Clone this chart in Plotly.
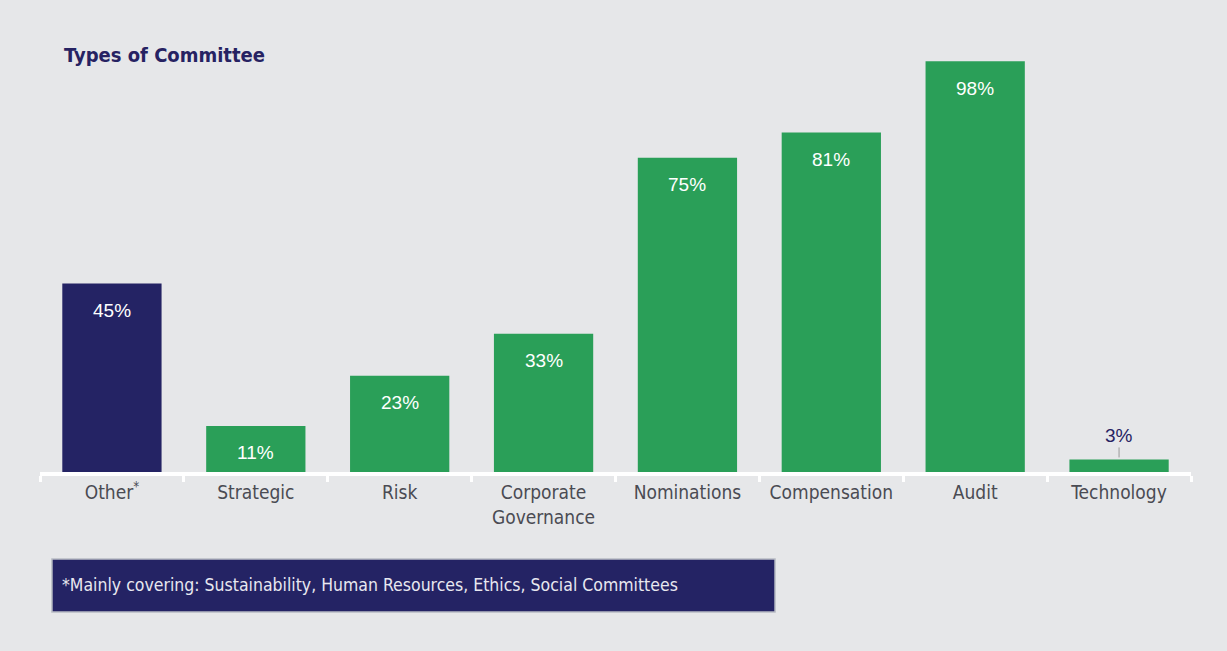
import plotly.graph_objects as go

categories = ["Other<sup>*</sup>", "Strategic", "Risk", "Corporate<br>Governance",
              "Nominations", "Compensation", "Audit", "Technology"]
values = [45, 11, 23, 33, 75, 81, 98, 3]
labels = ["45%", "11%", "23%", "33%", "75%", "81%", "98%", "3%"]
bar_colors = ["#242364", "#2A9F58", "#2A9F58", "#2A9F58", "#2A9F58", "#2A9F58", "#2A9F58", "#2A9F58"]
title_text = "Types of Committee"
footnote = "*Mainly covering: Sustainability, Human Resources, Ethics, Social Committees"

BG = "#E6E7E9"
NAVY = "#262262"
COND = "DejaVu Sans Condensed, Liberation Sans Narrow, Arial Narrow, sans-serif"

fig = go.Figure()
fig.add_trace(go.Bar(
    x=categories, y=values, width=0.69,
    marker=dict(color=bar_colors, line=dict(width=0)),
    hoverinfo="skip",
))

for i, (c, v, t) in enumerate(zip(categories, values, labels)):
    if v >= 8:
        fig.add_annotation(x=c, y=v, text=t, showarrow=False, yshift=-27,
                           font=dict(family="Liberation Sans, Arial, sans-serif", size=19, color="white"),
                           xanchor="center", yanchor="middle")
    else:
        fig.add_annotation(x=c, y=v, text=t, showarrow=True, ax=0, ay=-24,
                           arrowhead=0, arrowwidth=1, arrowcolor="#9a9a9a", standoff=2,
                           font=dict(family="Liberation Sans, Arial, sans-serif", size=19, color=NAVY),
                           xanchor="center", yanchor="middle")

# title
fig.add_annotation(xref="paper", yref="paper", x=0.0191, y=0.965, text=title_text,
                   showarrow=False, xanchor="left", yanchor="middle",
                   font=dict(family=COND, size=20, color=NAVY, weight="bold"))

# footnote box
fig.add_shape(type="rect", xref="paper", yref="paper", x0=0.0104, x1=0.6386, y0=-0.324, y1=-0.2014,
              fillcolor="#242364", line=dict(color="#b8bcc4", width=1.5), layer="above")
fig.add_annotation(xref="paper", yref="paper", x=0.0174, y=-0.2627, text=footnote,
                   showarrow=False, xanchor="left", yanchor="middle",
                   font=dict(family=COND, size=17.5, color="#e8e8f0"))

fig.update_layout(
    width=1227, height=651,
    margin=dict(l=40, r=36, t=40, b=179),
    paper_bgcolor=BG, plot_bgcolor=BG,
    showlegend=False,
    xaxis=dict(
        type="category", range=[-0.5, 7.5],
        showline=True, linecolor="white", linewidth=4,
        ticks="outside", tickson="boundaries", ticklen=6, tickwidth=3, tickcolor="white",
        tickfont=dict(family=COND, size=19, color="#4a4b53"),
        showgrid=False, zeroline=False,
    ),
    yaxis=dict(range=[0, 103.1], visible=False, showgrid=False, zeroline=False),
)

fig.write_html("out.html")
